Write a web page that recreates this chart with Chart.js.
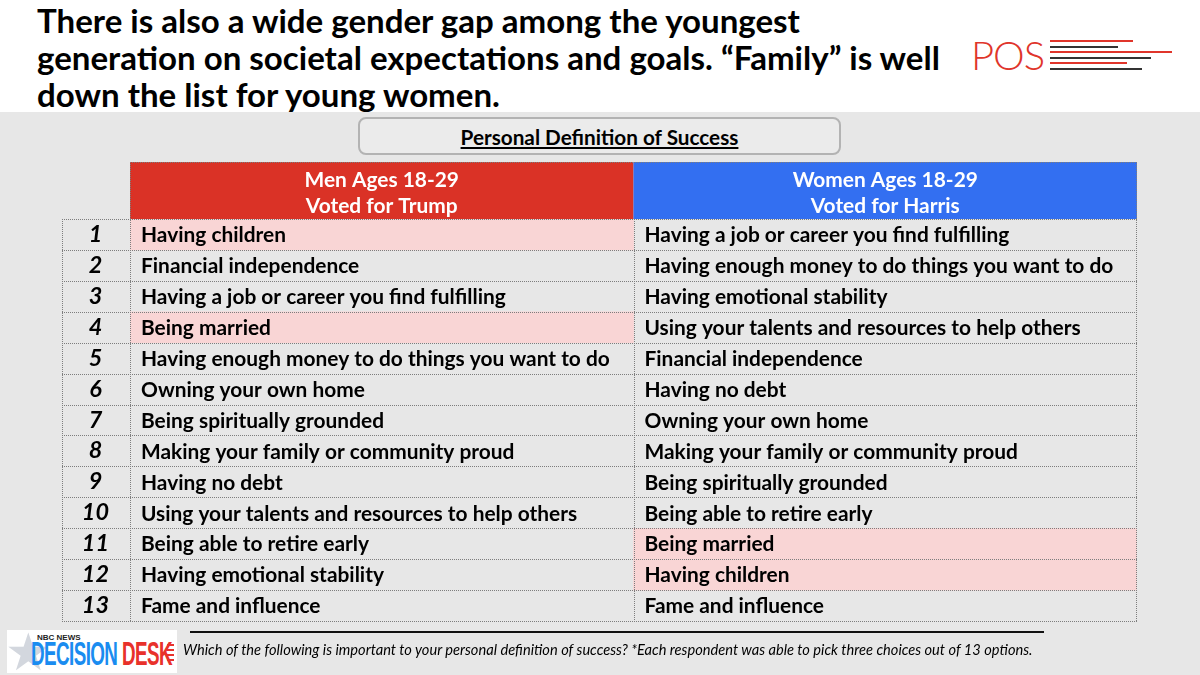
<!DOCTYPE html>
<html>
<head>
<meta charset="utf-8">
<script src="https://cdn.jsdelivr.net/npm/chart.js@4.4.1/dist/chart.umd.min.js"></script>
<style>
  body { margin: 0; width: 1200px; height: 675px; position: relative; overflow: hidden; background: #e7e7e7; font-family: Lato, "Open Sans", sans-serif; }
  #top { position: absolute; left: 0; top: 0; width: 1200px; height: 112px; background: #fff; }
  #title { position: absolute; left: 37px; top: 2px; font-weight: 700; font-size: 30px; line-height: 37px; color: #000; white-space: nowrap; }
  #title span { display: inline-block; }
  #pos { position: absolute; left: 971px; top: 31px; color: #e0352b; font-weight: 300; font-size: 40px; line-height: 48px; letter-spacing: -1px; }
  .pl { position: absolute; height: 2px; left: 1050px; }
  #subtitle { position: absolute; left: 358px; top: 117px; width: 479px; height: 34px; border: 2px solid #b3b3b3; border-radius: 8px; background: #ebebeb;
    text-align: center; font-weight: 700; font-size: 18px; line-height: 36px; color: #000; }
  #subtitle span { text-decoration: underline; display: inline-block; }
  #chart { position: absolute; left: 0; top: 0; }
  #rule { position: absolute; left: 190px; top: 631px; width: 854px; height: 2px; background: #111; }
  #note { position: absolute; left: 183px; top: 641px; font-style: italic; font-size: 13px; white-space: nowrap; color: #000; }
  #nbc { position: absolute; left: 7px; top: 630px; width: 170px; height: 43px; background: #fff; overflow: hidden; }
  #nbc .star { position: absolute; left: -2px; top: -8px; font-size: 52px; color: #d3d7de; font-family: "DejaVu Sans"; }
  #nbc .news { position: absolute; left: 30px; top: 3px; font-size: 8px; font-weight: 700; color: #222; font-family: "Liberation Sans Narrow", sans-serif; }
  #nbc .dd { position: absolute; left: 24px; top: 7px; font-family: "Liberation Sans Narrow", sans-serif; font-weight: 700; font-size: 33px; line-height: 33px; white-space: nowrap; transform-origin: 0 0; letter-spacing: -1px; }
  #nbc .dd b:first-child { color: #1a8cf0; }
  #nbc .dd b:last-child { color: #e8312b; }
  #nbc .st { position: absolute; left: 160px; width: 7px; height: 2px; background: #e8312b; }
</style>
</head>
<body>
<div id="top"></div>
<div id="title"><span>There is also a wide gender gap among the youngest</span><br><span id="tline">generation on societal expectations and goals. “Family” is well</span><br><span>down the list for young women.</span></div>
<div id="pos">POS</div>
<div class="pl" style="top:40px;width:83px;background:#e0352b"></div>
<div class="pl" style="top:46px;width:68px;background:#333"></div>
<div class="pl" style="top:51px;width:122px;background:#e0352b"></div>
<div class="pl" style="top:57px;width:101px;background:#333"></div>
<div class="pl" style="top:62px;width:77px;background:#e0352b"></div>
<div class="pl" style="top:68px;width:92px;background:#333"></div>
<div id="subtitle"><span id="subtext">Personal Definition of Success</span></div>
<canvas id="chart" width="1200" height="675"></canvas>
<div id="rule"></div>
<div id="nbc">
  <div class="star">★</div>
  <div class="news">NBC NEWS</div>
  <div class="dd" id="dd"><b>DECISION</b> <b>DESK</b></div>
  <div class="st" style="top:14px"></div>
  <div class="st" style="top:19px"></div>
  <div class="st" style="top:24px"></div>
  <div class="st" style="top:29px"></div>
</div>
<div id="note">Which of the following is important to your personal definition of success? *Each respondent was able to pick three choices out of 13 options.</div>
<script>
const ranks = ['1', '2', '3', '4', '5', '6', '7', '8', '9', '10', '11', '12', '13']
const headers = [
  ['Men Ages 18-29', 'Voted for Trump'],
  ['Women Ages 18-29', 'Voted for Harris']
]
const menItems = [
  'Having children',
  'Financial independence',
  'Having a job or career you find fulfilling',
  'Being married',
  'Having enough money to do things you want to do',
  'Owning your own home',
  'Being spiritually grounded',
  'Making your family or community proud',
  'Having no debt',
  'Using your talents and resources to help others',
  'Being able to retire early',
  'Having emotional stability',
  'Fame and influence'
]
const womenItems = [
  'Having a job or career you find fulfilling',
  'Having enough money to do things you want to do',
  'Having emotional stability',
  'Using your talents and resources to help others',
  'Financial independence',
  'Having no debt',
  'Owning your own home',
  'Making your family or community proud',
  'Being spiritually grounded',
  'Being able to retire early',
  'Being married',
  'Having children',
  'Fame and influence'
]
const familyItems = ['Having children', 'Being married']

const menColor = '#da3226'
const womenColor = '#336ff1'
const pinkColor = '#f9d5d5'
const font = 'Lato'

// size text to the widths it has in the original slide
function fitFont(el, target) {
  const size = parseFloat(getComputedStyle(el).fontSize)
  const w = el.getBoundingClientRect().width
  el.style.fontSize = (size * target / w) + 'px'
}
const titleEl = document.getElementById('title')
const tline = document.getElementById('tline')
const tsize = parseFloat(getComputedStyle(titleEl).fontSize)
titleEl.style.fontSize = (tsize * 903 / tline.getBoundingClientRect().width) + 'px'
fitFont(document.getElementById('note'), 850)
fitFont(document.getElementById('subtext'), 278)
const dd = document.getElementById('dd')
dd.style.transform = 'scaleX(' + (141 / dd.getBoundingClientRect().width) + ')'

const measure = document.createElement('canvas').getContext('2d')
measure.font = 'bold 100px ' + font
const cellSize = 100 * 469 / measure.measureText('Having enough money to do things you want to do').width

function crisp(v) { return Math.round(v) + 0.5 }

const tablePlugin = {
  id: 'tableDraw',
  afterDatasetsDraw(chart) {
    const { ctx, chartArea: a, scales: { x, y } } = chart
    const colX = [x.getPixelForValue(0), x.getPixelForValue(1), x.getPixelForValue(2)]
    const rowH = (a.bottom - a.top) / ranks.length
    const headTop = a.top - 57
    ctx.save()

    // header cells
    ;[menColor, womenColor].forEach((c, i) => {
      ctx.fillStyle = c
      ctx.fillRect(colX[i], headTop, colX[i + 1] - colX[i], a.top - headTop)
      ctx.fillStyle = '#fff'
      ctx.font = 'bold ' + cellSize + 'px ' + font
      ctx.textAlign = 'center'
      ctx.textBaseline = 'middle'
      const cx = (colX[i] + colX[i + 1]) / 2
      ctx.fillText(headers[i][0], cx, headTop + 18)
      ctx.fillText(headers[i][1], cx, headTop + 44)
    })

    // cell text
    ctx.fillStyle = '#000'
    ctx.textAlign = 'left'
    ;[menItems, womenItems].forEach((items, c) => {
      items.forEach((t, i) => {
        ctx.fillText(t, colX[c] + 11, y.getPixelForValue(i) + 1)
      })
    })

    // dotted borders
    ctx.setLineDash([1, 1])
    ctx.strokeStyle = '#7d7d7d'
    ctx.lineWidth = 1
    ctx.beginPath()
    for (let i = 0; i <= ranks.length; i++) {
      const yy = crisp(y.getPixelForValue(i) - rowH / 2)
      ctx.moveTo(y.left, yy)
      ctx.lineTo(a.right, yy)
    }
    ctx.moveTo(colX[0], crisp(headTop))
    ctx.lineTo(colX[2], crisp(headTop))
    ctx.moveTo(crisp(y.left), a.top)
    ctx.lineTo(crisp(y.left), a.bottom)
    ctx.moveTo(crisp(colX[0]), headTop)
    ctx.lineTo(crisp(colX[0]), a.bottom)
    ctx.moveTo(crisp(colX[1]), a.top)
    ctx.lineTo(crisp(colX[1]), a.bottom)
    ctx.moveTo(crisp(colX[2]) - 1, headTop)
    ctx.lineTo(crisp(colX[2]) - 1, a.bottom)
    ctx.stroke()
    ctx.restore()
  }
}

const tableData = {
  labels: ranks,
  datasets: [{
    label: 'Men',
    data: menItems.map(t => familyItems.includes(t) ? [0, 1] : null),
    backgroundColor: pinkColor,
    grouped: false,
    barPercentage: 1,
    categoryPercentage: 1
  },
  {
    label: 'Women',
    data: womenItems.map(t => familyItems.includes(t) ? [1, 2] : null),
    backgroundColor: pinkColor,
    grouped: false,
    barPercentage: 1,
    categoryPercentage: 1
  }]
}

const tableConfig = {
  type: 'bar',
  data: tableData,
  options: {
    indexAxis: 'y',
    responsive: false,
    animation: false,
    devicePixelRatio: 1,
    layout: {
      padding: { left: 62, right: 63, top: 219, bottom: 54 }
    },
    scales: {
      x: {
        type: 'linear',
        min: 0,
        max: 2,
        display: false
      },
      y: {
        type: 'category',
        grid: { display: false, drawTicks: false },
        border: { display: false },
        afterFit: function (scale) { scale.width = 68 },
        ticks: {
          autoSkip: false,
          crossAlign: 'center',
          padding: 21,
          color: '#000',
          font: { family: font, size: cellSize * 1.12, weight: 'bold', style: 'italic' }
        }
      }
    },
    plugins: {
      legend: { display: false },
      tooltip: { enabled: false }
    }
  },
  plugins: [tablePlugin]
}

const tableChart = new Chart(document.getElementById('chart'), tableConfig)
</script>
</body>
</html>
